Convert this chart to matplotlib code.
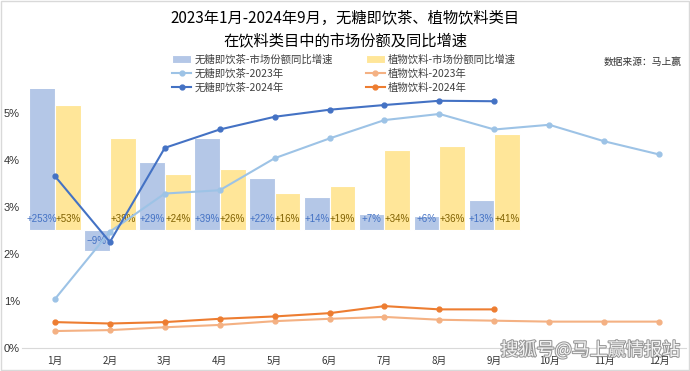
import matplotlib
matplotlib.use("Agg")
import matplotlib.pyplot as plt
import matplotlib.patheffects as pe
import numpy as np

plt.rcParams['font.family'] = ['Noto Sans CJK SC', 'DejaVu Sans']

months = ["1月", "2月", "3月", "4月", "5月", "6月", "7月", "8月", "9月", "10月", "11月", "12月"]

# 市场份额 (%)
tea_2023 = [1.04, 2.47, 3.28, 3.35, 4.03, 4.45, 4.84, 4.97, 4.64, 4.74, 4.39, 4.11]
tea_2024 = [3.65, 2.25, 4.25, 4.64, 4.91, 5.06, 5.16, 5.25, 5.24]
plant_2023 = [0.36, 0.38, 0.44, 0.49, 0.57, 0.62, 0.66, 0.60, 0.58, 0.56, 0.56, 0.56]
plant_2024 = [0.55, 0.52, 0.55, 0.62, 0.67, 0.74, 0.89, 0.82, 0.82]

# 市场份额同比增速 (%)
tea_growth = [253, -9, 29, 39, 22, 14, 7, 6, 13]
plant_growth = [53, 39, 24, 26, 16, 19, 34, 36, 41]

c_tea_bar = "#B4C7E7"
c_plant_bar = "#FFE699"
c_tea23 = "#9DC3E6"
c_tea24 = "#4472C4"
c_pl23 = "#F4B183"
c_pl24 = "#ED7D31"

fig = plt.figure(figsize=(6.9, 3.71), dpi=100)
ax = fig.add_axes([22/690, 23/371, 664/690, 259/371])
ax2 = ax.twinx()
ax.set_zorder(ax2.get_zorder() + 1)
ax.patch.set_visible(False)

x = np.arange(len(months))
xg = np.arange(len(tea_growth))
w = 0.47

b1 = ax2.bar(xg - w/2, tea_growth, w, color=c_tea_bar, edgecolor="white", linewidth=0.8)
b2 = ax2.bar(xg + w/2, plant_growth, w, color=c_plant_bar, edgecolor="white", linewidth=0.8)
ax2.set_ylim(-50, 60)
ax2.axis("off")

for i, v in enumerate(tea_growth):
    lab = f"+{v}%" if v > 0 else f"−{abs(v)}%"
    ax2.text(xg[i] - w/2, 4.7 if v > 0 else -4.7, lab, ha="center", va="center",
             fontsize=7, color="#4472C4", family="Liberation Sans")
for i, v in enumerate(plant_growth):
    ax2.text(xg[i] + w/2, 4.7, f"+{v}%", ha="center", va="center",
             fontsize=7, color="#7F6000", family="Liberation Sans")

l1, = ax.plot(x, tea_2023, color=c_tea23, lw=1.5, marker="o", ms=3.5)
l2, = ax.plot(x[:len(tea_2024)], tea_2024, color=c_tea24, lw=1.5, marker="o", ms=3.5)
l3, = ax.plot(x, plant_2023, color=c_pl23, lw=1.5, marker="o", ms=3.5)
l4, = ax.plot(x[:len(plant_2024)], plant_2024, color=c_pl24, lw=1.5, marker="o", ms=3.5)

ax.set_xlim(-0.6, 11.49)
ax2.set_xlim(-0.6, 11.49)
ax.set_ylim(0, 5.5)
ax.set_yticks([0, 1, 2, 3, 4, 5])
ax.set_yticklabels([f"{i}%" for i in range(6)], family="Liberation Sans")
ax.set_xticks(x)
ax.set_xticklabels(months)
ax.tick_params(axis="x", length=0, pad=6, labelsize=7, colors="#333333")
ax.tick_params(axis="y", length=0, pad=1.5, labelsize=8, colors="#333333")
for s in ["top", "right", "left"]:
    ax.spines[s].set_visible(False)
ax.spines["bottom"].set_color("#D9D9D9")

fig.text(0.5, 1 - 18/371, "2023年1月-2024年9月，无糖即饮茶、植物饮料类目", ha="center", va="center", fontsize=11)
fig.text(0.5, 1 - 42/371, "在饮料类目中的市场份额及同比增速", ha="center", va="center", fontsize=11)
fig.text(682/690, 1 - 62/371, "数据来源：马上赢", ha="right", va="center", fontsize=7, color="#333333")

handles = [b1, l1, l2, b2, l3, l4]
labels = ["无糖即饮茶-市场份额同比增速", "无糖即饮茶-2023年", "无糖即饮茶-2024年",
          "植物饮料-市场份额同比增速", "植物饮料-2023年", "植物饮料-2024年"]
fig.legend(handles, labels, ncol=2, loc="upper left", bbox_to_anchor=(163/690, 1 - 45/371),
           frameon=False, fontsize=7.5, handlelength=1.8, handletextpad=0.3,
           columnspacing=3.2, labelspacing=0.35, labelcolor="#404040")

fig.text(590/690, 1 - 350/371, "搜狐号@马上赢情报站", ha="center", va="center", fontsize=13,
         color="white", alpha=0.9,
         path_effects=[pe.withStroke(linewidth=1.5, foreground="#8C8C8C")])

fig.patches.append(plt.Rectangle((0.002, 0.002), 0.996, 0.996, transform=fig.transFigure,
                                 fill=False, edgecolor="#D9D9D9", linewidth=1))

fig.savefig("out.png", dpi=100)
